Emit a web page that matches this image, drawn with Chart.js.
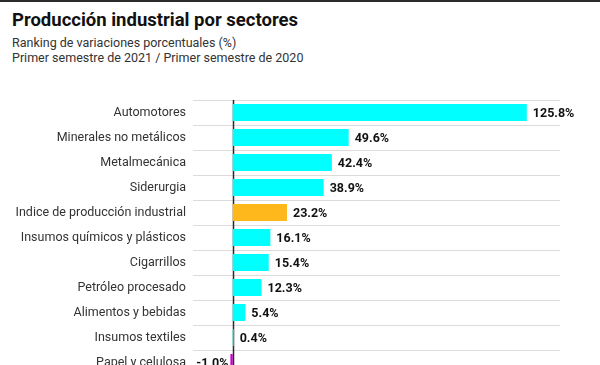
<!DOCTYPE html>
<html>
<head>
<meta charset="utf-8">
<script src="https://cdn.jsdelivr.net/npm/chart.js@4"></script>
<style>
    html, body {
        margin: 0;
        padding: 0;
        width: 600px;
        height: 365px;
        overflow: hidden;
        background: #fff;
        font-family: 'Roboto', sans-serif;
    }
    .top-rule {
        position: absolute;
        left: 0;
        top: 0;
        width: 600px;
        height: 2px;
        background: #2b2b2b;
    }
    .title {
        position: absolute;
        left: 12px;
        top: 9px;
        font-size: 18.5px;
        font-weight: bold;
        color: #111;
    }
    .subtitle {
        position: absolute;
        left: 12px;
        font-size: 12.5px;
        color: #333;
    }
    #sectorChart {
        position: absolute;
        left: 0;
        top: 0;
    }
</style>
</head>
<body>
<div class="top-rule"></div>
<div class="title">Producción industrial por sectores</div>
<div class="subtitle" style="top: 35px;">Ranking de variaciones porcentuales (%)</div>
<div class="subtitle" style="top: 50px;">Primer semestre de 2021 / Primer semestre de 2020</div>
<canvas id="sectorChart" width="600" height="400"></canvas>

<script>
// Data
const sectors = [
    'Automotores',
    'Minerales no metálicos',
    'Metalmecánica',
    'Siderurgia',
    'Indice de producción industrial',
    'Insumos químicos y plásticos',
    'Cigarrillos',
    'Petróleo procesado',
    'Alimentos y bebidas',
    'Insumos textiles',
    'Papel y celulosa'
];
const variations = [125.8, 49.6, 42.4, 38.9, 23.2, 16.1, 15.4, 12.3, 5.4, 0.4, -1.0];
const highlighted = 'Indice de producción industrial';

document.addEventListener('DOMContentLoaded', function() {
    drawChart();
});

function drawChart() {
    // Zero line
    const zeroLine = {
        id: 'zeroLine',
        beforeDatasetsDraw: function(chart) {
            const ctx = chart.ctx;
            const x = Math.round(chart.scales.x.getPixelForValue(0)) + 0.5;
            ctx.save();
            ctx.strokeStyle = '#2b2b2b';
            ctx.lineWidth = 1.5;
            ctx.beginPath();
            ctx.moveTo(x, chart.chartArea.top);
            ctx.lineTo(x, chart.chartArea.bottom);
            ctx.stroke();
            ctx.restore();
        }
    };

    // Value labels at the end of each bar
    const valueLabels = {
        id: 'valueLabels',
        afterDatasetsDraw: function(chart) {
            const ctx = chart.ctx;
            const meta = chart.getDatasetMeta(0);
            ctx.save();
            ctx.font = "bold 12.5px 'Roboto', sans-serif";
            ctx.fillStyle = '#111';
            ctx.textBaseline = 'middle';
            meta.data.forEach(function(bar, i) {
                const v = variations[i];
                const text = v.toFixed(1) + '%';
                if (v < 0) {
                    ctx.textAlign = 'right';
                    ctx.fillText(text, bar.x - 2, bar.y + 1);
                } else {
                    ctx.textAlign = 'left';
                    ctx.fillText(text, bar.x + 6, bar.y + 1);
                }
            });
            ctx.restore();
        }
    };

    const ctx = document.getElementById('sectorChart').getContext('2d');
    new Chart(ctx, {
        type: 'bar',
        data: {
            labels: sectors,
            datasets: [{
                data: variations,
                backgroundColor: function(c) {
                    if (variations[c.dataIndex] < 0) return '#c800c8';
                    if (sectors[c.dataIndex] === highlighted) return '#ffb81c';
                    return '#00ffff';
                },
                borderWidth: 0,
                barPercentage: 0.68,
                categoryPercentage: 1
            }]
        },
        plugins: [zeroLine, valueLabels],
        options: {
            indexAxis: 'y',
            responsive: false,
            animation: false,
            layout: {
                padding: { top: 100, right: 40, bottom: 25, left: 0 }
            },
            scales: {
                x: {
                    display: false,
                    min: -17,
                    max: 140
                },
                y: {
                    afterFit: function(scale) {
                        scale.width = 193;
                    },
                    grid: {
                        color: '#dcdcdc',
                        lineWidth: 1,
                        drawTicks: false
                    },
                    border: {
                        display: false
                    },
                    ticks: {
                        padding: 7,
                        color: '#333',
                        font: {
                            family: "'Roboto', sans-serif",
                            size: 12.5
                        }
                    }
                }
            },
            plugins: {
                legend: { display: false },
                tooltip: { enabled: false }
            }
        }
    });
}
</script>
</body>
</html>
